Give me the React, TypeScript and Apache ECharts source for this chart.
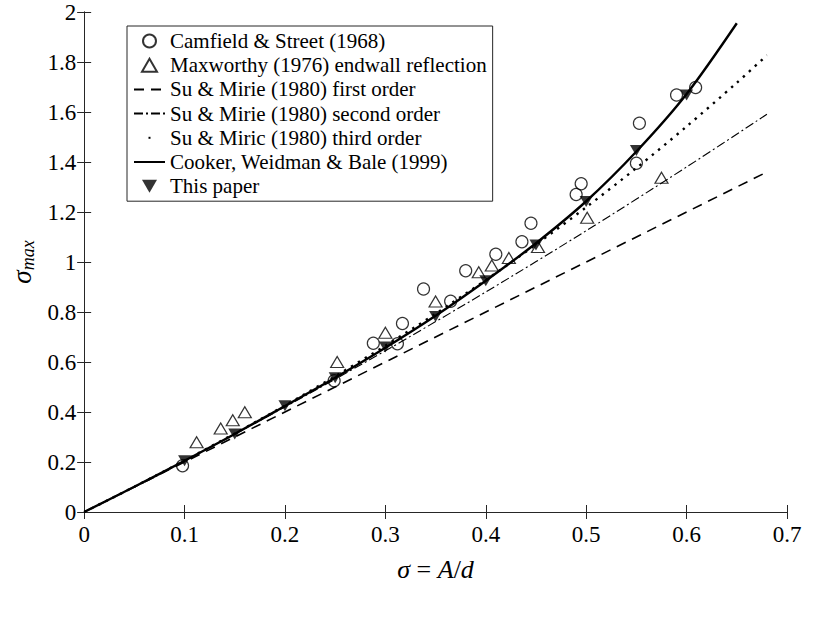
import React, { useEffect, useRef } from "react";
import * as echarts from "echarts";

const FONT = "Times New Roman, Liberation Serif, serif";

const camfield: number[][] = [
  [0.098, 0.185], [0.249, 0.525], [0.288, 0.675], [0.312, 0.673], [0.317, 0.754],
  [0.338, 0.892], [0.365, 0.843], [0.38, 0.965], [0.41, 1.031], [0.436, 1.081],
  [0.445, 1.155], [0.49, 1.27], [0.495, 1.313], [0.55, 1.395], [0.553, 1.555],
  [0.59, 1.668], [0.609, 1.698],
];

const maxworthy: number[][] = [
  [0.112, 0.279], [0.136, 0.334], [0.148, 0.367], [0.16, 0.399], [0.252, 0.6],
  [0.3, 0.717], [0.35, 0.842], [0.393, 0.959], [0.406, 0.986], [0.423, 1.016],
  [0.452, 1.06], [0.501, 1.177], [0.575, 1.337],
];

const firstOrder: number[][] = [[0, 0], [0.68, 1.36]];

const secondOrder: number[][] = [
  [0, 0], [0.1, 0.205], [0.2, 0.42], [0.3, 0.645], [0.4, 0.88],
  [0.5, 1.125], [0.6, 1.38], [0.68, 1.591],
];

const thirdOrder: number[][] = [
  [0, 0], [0.05, 0.101], [0.1, 0.206], [0.15, 0.314], [0.2, 0.426], [0.25, 0.543],
  [0.3, 0.665], [0.35, 0.793], [0.4, 0.928], [0.45, 1.07], [0.5, 1.219],
  [0.55, 1.376], [0.6, 1.542], [0.65, 1.717], [0.68, 1.827],
];

const cooker: number[][] = [
  [0, 0], [0.05, 0.101], [0.1, 0.205], [0.15, 0.312], [0.2, 0.424], [0.25, 0.537],
  [0.3, 0.657], [0.35, 0.785], [0.4, 0.925], [0.45, 1.075], [0.5, 1.243],
  [0.55, 1.442], [0.6, 1.672], [0.65, 1.955],
];

const thisPaper: number[][] = [
  [0.1, 0.205], [0.15, 0.312], [0.2, 0.425], [0.25, 0.537], [0.3, 0.66],
  [0.35, 0.782], [0.4, 0.925], [0.45, 1.068], [0.5, 1.242], [0.55, 1.446], [0.6, 1.668],
];

const names = [
  "Camfield & Street (1968)",
  "Maxworthy (1976) endwall reflection",
  "Su & Mirie (1980) first order",
  "Su & Mirie (1980) second order",
  "Su & Miric (1980) third order",
  "Cooker, Weidman & Bale (1999)",
  "This paper",
];

const AX = "#262626";
const DOWN_TRI = "path://M0,0 L10,0 L5,8.66 Z";
const UP_TRI = "path://M5,0 L10,8.66 L0,8.66 Z";
const DOT_ICON = "path://M0,0 M31,13 M14.5,5.5 L16.5,5.5 L16.5,7.5 L14.5,7.5 Z";

export default function App() {
  const ref = useRef<HTMLDivElement>(null);
  useEffect(() => {
    if (!ref.current) return;
    const chart = echarts.init(ref.current, undefined, { renderer: "svg" });
    const axisCommon = {
      type: "value" as const,
      axisLine: { show: true, lineStyle: { color: AX, width: 1 } },
      axisTick: { show: true, inside: true, length: 7, lineStyle: { color: AX } },
      splitLine: { show: false },
    };
    const hideSym = { itemStyle: { opacity: 0 } };
    chart.setOption({
      animation: false,
      backgroundColor: "#fff",
      textStyle: { fontFamily: FONT },
      grid: { left: 66, right: 33, top: 12, bottom: 110, containLabel: false },
      legend: {
        orient: "vertical",
        left: 127,
        top: 26,
        backgroundColor: "#fff",
        borderColor: AX,
        borderWidth: 1,
        padding: [3, 6, 3, 6],
        itemWidth: 31,
        itemHeight: 13,
        itemGap: 0.2,
        textStyle: { fontFamily: FONT, fontSize: 21, color: "#000", lineHeight: 24 },
        data: [
          { name: names[0] },
          { name: names[1] },
          { name: names[2], ...hideSym },
          { name: names[3], ...hideSym },
          { name: names[4], icon: DOT_ICON },
          { name: names[5], ...hideSym },
          { name: names[6] },
        ],
      },
      xAxis: [
        {
          ...axisCommon,
          min: 0,
          max: 0.7,
          interval: 0.1,
          position: "bottom",
          axisLabel: { fontFamily: FONT, fontSize: 23, color: "#000", margin: 11 },
          name: "{i|σ} = {i|A}/{i|d}",
          nameLocation: "middle",
          nameGap: 44,
          nameTextStyle: {
            fontFamily: FONT,
            fontSize: 26,
            color: "#000",
            rich: { i: { fontFamily: FONT, fontSize: 26, fontStyle: "italic", color: "#000" } },
          },
        },
        {
          ...axisCommon,
          min: 0,
          max: 0.7,
          interval: 0.1,
          position: "top",
          axisLabel: { show: false },
        },
      ],
      yAxis: [
        {
          ...axisCommon,
          min: 0,
          max: 2,
          interval: 0.2,
          position: "left",
          axisLabel: { fontFamily: FONT, fontSize: 23, color: "#000", margin: 8 },
          name: "{s|σ}{m|max}",
          nameLocation: "middle",
          nameRotate: 90,
          nameGap: 46,
          nameTextStyle: {
            fontFamily: FONT,
            color: "#000",
            rich: {
              s: { fontFamily: FONT, fontSize: 27, fontStyle: "italic", color: "#000", lineHeight: 30 },
              m: {
                fontFamily: FONT,
                fontSize: 18,
                fontStyle: "italic",
                color: "#000",
                lineHeight: 30,
                verticalAlign: "bottom",
                padding: [8, 0, 0, 0],
              },
            },
          },
        },
        {
          ...axisCommon,
          min: 0,
          max: 2,
          interval: 0.2,
          position: "right",
          axisLabel: { show: false },
        },
      ],
      series: [
        {
          name: names[0],
          type: "scatter",
          data: camfield,
          symbol: "circle",
          symbolSize: 12,
          itemStyle: { color: "transparent", borderColor: "#000", borderWidth: 1.2 },
          z: 2,
        },
        {
          name: names[1],
          type: "scatter",
          data: maxworthy,
          symbol: UP_TRI,
          symbolSize: [13, 11],
          itemStyle: { color: "transparent", borderColor: "#000", borderWidth: 1.2 },
          z: 2,
        },
        {
          name: names[2],
          type: "line",
          data: firstOrder,
          symbol: "none",
          itemStyle: { color: "#000" },
          lineStyle: { color: "#000", width: 1.6, type: [10, 7] },
          z: 3,
        },
        {
          name: names[3],
          type: "line",
          data: secondOrder,
          smooth: 0.3,
          symbol: "none",
          itemStyle: { color: "#000" },
          lineStyle: { color: "#000", width: 1.1, type: [9, 3, 2, 3] },
          z: 3,
        },
        {
          name: names[4],
          type: "line",
          data: thirdOrder,
          smooth: 0.3,
          symbol: "none",
          itemStyle: { color: "#000" },
          lineStyle: { color: "#000", width: 2.4, type: [2.4, 5.6] },
          z: 3,
        },
        {
          name: names[5],
          type: "line",
          data: cooker,
          smooth: 0.3,
          symbol: "none",
          itemStyle: { color: "#000" },
          lineStyle: { color: "#000", width: 2.4 },
          z: 4,
        },
        {
          name: names[6],
          type: "scatter",
          data: thisPaper,
          symbol: DOWN_TRI,
          symbolSize: [13, 11],
          itemStyle: { color: "#000" },
          z: 5,
        },
      ],
    });
    return () => chart.dispose();
  }, []);
  return (
    <div
      ref={ref}
      style={{ position: "absolute", left: 0, top: 0, width: 820, height: 622 }}
    />
  );
}
